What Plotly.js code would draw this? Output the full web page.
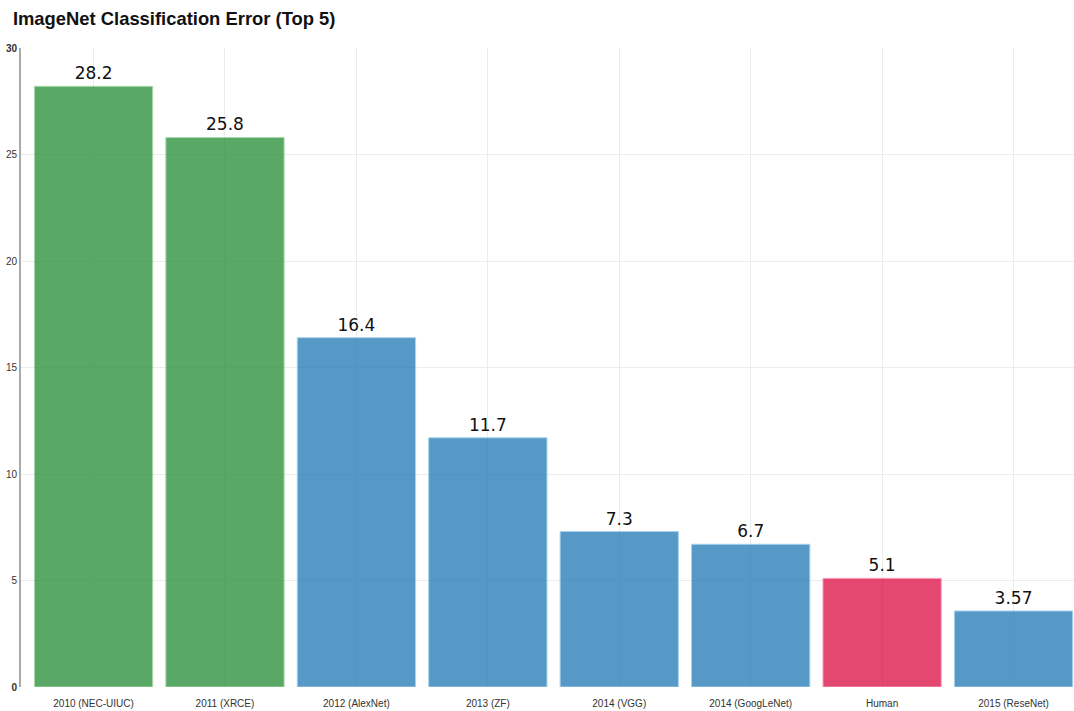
<!DOCTYPE html>
<html>
<head>
<meta charset="utf-8">
<script src="https://cdn.plot.ly/plotly-3.0.1.min.js"></script>
<style>html,body{margin:0;padding:0;background:#fff;}#chart{width:1074px;height:711px;}</style>
</head>
<body>
<div id="chart"></div>
<script>
const categories = ["2010 (NEC-UIUC)", "2011 (XRCE)", "2012 (AlexNet)", "2013 (ZF)", "2014 (VGG)", "2014 (GoogLeNet)", "Human", "2015 (ReseNet)"];
const errors = [28.2, 25.8, 16.4, 11.7, 7.3, 6.7, 5.1, 3.57];
const groups = ["early", "early", "cnn", "cnn", "cnn", "cnn", "human", "cnn"];
const yTickVals = [0, 5, 10, 15, 20, 25, 30];
const yTickText = ["<b>0</b>", "5", "10", "15", "20", "25", "<b>30</b>"];

const fillColors = {early: "rgb(36,140,52)", cnn: "rgb(31,119,180)", human: "rgb(220,10,65)"};
const edgeColors = {early: "rgb(140,205,145)", cnn: "rgb(140,195,230)", human: "rgb(250,130,165)"};

const trace = {
  type: "bar",
  x: categories,
  y: errors,
  text: errors.map(String),
  textposition: "outside",
  cliponaxis: false,
  textfont: {family: "DejaVu Sans, sans-serif", size: 17, color: "#111"},
  marker: {
    color: groups.map(g => fillColors[g]),
    opacity: 0.75,
    line: {color: groups.map(g => edgeColors[g]), width: 1}
  },
  hoverinfo: "x+y"
};

const layout = {
  width: 1074, height: 711,
  margin: {l: 21, r: 0, t: 48, b: 24, pad: 0},
  paper_bgcolor: "#fff", plot_bgcolor: "#fff",
  bargap: 0.1,
  showlegend: false,
  title: {text: "<b>ImageNet Classification Error (Top 5)</b>", x: 0.012, xanchor: "left", y: 0.974, yanchor: "middle",
          font: {family: "Liberation Sans, Arial, sans-serif", size: 18.4, color: "#111"}},
  xaxis: {
    type: "category",
    range: [-0.552, 7.46],
    showgrid: true, gridcolor: "#ececec", gridwidth: 1,
    showline: false, zeroline: false,
    ticks: "", ticklen: 0,
    ticklabelstandoff: 9,
    tickfont: {family: "Liberation Sans, Arial, sans-serif", size: 10, color: "#333"}
  },
  yaxis: {
    range: [0, 30],
    tickvals: yTickVals, ticktext: yTickText,
    showgrid: true, gridcolor: "#ececec", gridwidth: 1,
    showline: true, linecolor: "#aaa", linewidth: 2,
    zeroline: false,
    ticks: "", ticklen: 0,
    tickfont: {family: "Liberation Sans, Arial, sans-serif", size: 10, color: "#333"}
  }
};

Plotly.newPlot("chart", [trace], layout, {displayModeBar: false, staticPlot: true});
</script>
</body>
</html>
